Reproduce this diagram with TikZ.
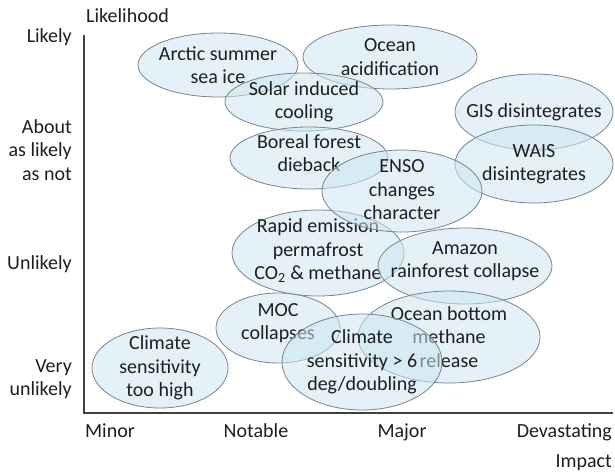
\documentclass[tikz,border=0pt]{standalone}
\usepackage{fontspec}
\setmainfont{Carlito}
\usetikzlibrary{shapes.geometric}

\definecolor{blobfill}{RGB}{205,230,242}
\definecolor{blobline}{RGB}{120,132,140}
\definecolor{inkgrey}{RGB}{30,30,30}

\begin{document}
\begin{tikzpicture}[x=1bp,y=-1bp,
    blob/.style={ellipse,draw=blobline,line width=0.8bp,fill=blobfill,
      fill opacity=0.55,inner sep=0pt},
    ell/.style 2 args={minimum width=#1bp,minimum height=#2bp},
    txt/.style={align=center,text=inkgrey,text opacity=1,inner sep=0pt,
      font=\fontsize{20bp}{23.5bp}\selectfont},
    lab/.style={text=inkgrey,inner sep=0pt,
      font=\fontsize{20bp}{23.5bp}\selectfont},
    axis/.style={draw=black!75,line width=2bp}]
    \useasboundingbox (0,0) rectangle (615,474);

    % axes
    \coordinate (ytop) at (84,35);
    \coordinate (origin) at (84,413);
    \coordinate (xend) at (613,413);
    \draw[axis] (ytop) -- (origin) -- (xend);

    \node[lab,anchor=base west] (likelihood) at (86,23) {Likelihood};
    \node[lab,anchor=base east] (likely) at (72,43) {Likely};
    \node[lab,anchor=east,align=right] (even) at (72,150) {About\\as likely\\as not};
    \node[lab,anchor=base east] (unlikely) at (72,270) {Unlikely};
    \node[lab,anchor=east,align=right] (veryunlikely) at (72,379) {Very\\unlikely};
    \node[lab,anchor=base] (minor) at (110,437) {Minor};
    \node[lab,anchor=base] (notable) at (256,437) {Notable};
    \node[lab,anchor=base] (major) at (402,437) {Major};
    \node[lab,anchor=base east] (devastating) at (612,437) {Devastating};
    \node[lab,anchor=base east] (impact) at (612,467) {Impact};

    % risks, later ones lie on top
    \node[blob,ell={160}{64},label={[txt]center:Arctic summer\\sea ice}] (arctic) at (218,65) {};
    \node[blob,ell={174}{64},label={[txt]center:Ocean\\acidification}] (acid) at (390,57) {};
    \node[blob,ell={158}{58},label={[txt]center:Solar induced\\cooling}] (solar) at (304,102) {};
    \node[blob,ell={158}{62},label={[txt,yshift=5bp]center:Boreal forest\\dieback}] (boreal) at (309,158) {};
    \node[blob,ell={158}{76},label={[txt]center:GIS disintegrates}] (gis) at (534,112) {};
    \node[blob,ell={158}{78},label={[txt]center:WAIS\\disintegrates}] (wais) at (534,164) {};
    \node[blob,ell={172}{86},label={[txt,yshift=2bp]center:Rapid emission\\permafrost\\CO\textsubscript{2} \& methane}] (rapid) at (318,253) {};
    \node[blob,ell={160}{82},label={[txt,yshift=1bp]center:ENSO\\changes\\character}] (enso) at (402,191) {};
    \node[blob,ell={174}{76},label={[txt,yshift=5bp]center:Amazon\\rainforest collapse}] (amazon) at (465,266) {};
    \node[blob,ell={182}{92},label={[txt]center:Ocean bottom\\methane\\release}] (seabed) at (449,337) {};
    \node[blob,ell={124}{70},label={[txt,yshift=5bp]center:MOC\\collapses}] (moc) at (278,328) {};
    \node[blob,ell={136}{80},label={[txt]center:Climate\\sensitivity\\too high}] (toohigh) at (160,368) {};
    \node[blob,ell={160}{96},label={[txt]center:Climate\\sensitivity > 6\\deg/doubling}] (sixdeg) at (362,362) {};
  \end{tikzpicture}
\end{document}
